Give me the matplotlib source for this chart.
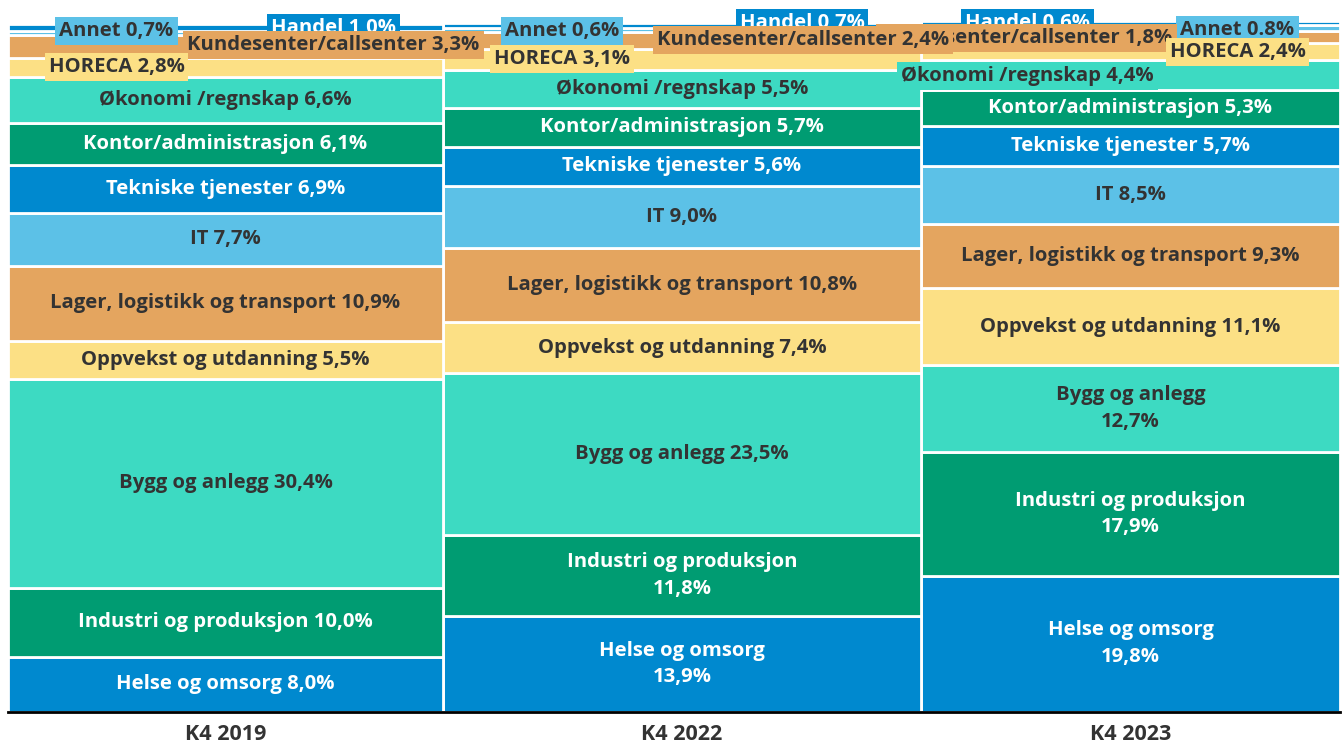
import numpy as np
import matplotlib.pyplot as plt

## data : share of vacancies per occupation group (bottom -> top)
periods = ['K4 2019', 'K4 2022', 'K4 2023']
col_width = [435, 478, 419]   # relative width of each column (mekko)
categories = ['Helse og omsorg', 'Industri og produksjon', 'Bygg og anlegg',
              'Oppvekst og utdanning', 'Lager, logistikk og transport', 'IT',
              'Tekniske tjenester', 'Kontor/administrasjon', 'Økonomi /regnskap',
              'HORECA', 'Kundesenter/callsenter', 'Annet', 'Handel']
share_2019 = [8.0, 10.0, 30.4, 5.5, 10.9, 7.7, 6.9, 6.1, 6.6, 2.8, 3.3, 0.7, 1.0]
share_2022 = [13.9, 11.8, 23.5, 7.4, 10.8, 9.0, 5.6, 5.7, 5.5, 3.1, 2.4, 0.6, 0.7]
share_2023 = [19.8, 17.9, 12.7, 11.1, 9.3, 8.5, 5.7, 5.3, 4.4, 2.4, 1.8, 0.8, 0.6]
label_2019 = ['8,0%', '10,0%', '30,4%', '5,5%', '10,9%', '7,7%', '6,9%', '6,1%', '6,6%', '2,8%', '3,3%', '0,7%', '1,0%']
label_2022 = ['13,9%', '11,8%', '23,5%', '7,4%', '10,8%', '9,0%', '5,6%', '5,7%', '5,5%', '3,1%', '2,4%', '0,6%', '0,7%']
label_2023 = ['19,8%', '17,9%', '12,7%', '11,1%', '9,3%', '8,5%', '5,7%', '5,3%', '4,4%', '2,4%', '1,8%', '0.8%', '0,6%']

shares = [share_2019, share_2022, share_2023]
labels = [label_2019, label_2022, label_2023]

## style
palette = ['#0089CF', '#009C72', '#3DDAC2', '#FCE085', '#E4A55F', '#5CC1E7']
light = ['#3DDAC2', '#FCE085', '#E4A55F', '#5CC1E7']
dark_txt = '#333333'
# labels split into two lines (column index, category index)
wrap = {(1, 0), (1, 1), (2, 0), (2, 1), (2, 2)}
# label shifts in pixels (dx, dy) for the crowded top segments
shift = {
    (0, 9): (-109, 1), (0, 10): (108, 2), (0, 11): (-109, 2), (0, 12): (108, -1),
    (1, 9): (-120, 0), (1, 10): (121, 0), (1, 11): (-120, -1), (1, 12): (120, 2),
    (2, 8): (-103, -1), (2, 9): (107, -1), (2, 10): (-104, -1), (2, 11): (107, -2),
    (2, 12): (-103, 0),
}

plt.rcParams['font.family'] = ['Open Sans', 'DejaVu Sans']

fig = plt.figure(figsize=(13.44, 7.48), dpi=100)
ax = fig.add_axes([8/1344, 36/748, 1332/1344, 691/748])

lefts = np.concatenate([[0], np.cumsum(col_width)[:-1]])
centers = lefts + np.array(col_width)/2.0
n = len(categories)

for c in range(len(periods)-1, -1, -1):
    bottom = 0.0
    for k, cat in enumerate(categories):
        v = shares[c][k]
        col = palette[k % len(palette)]
        ax.bar(lefts[c], v, width=col_width[c], bottom=bottom, align='edge',
               color=col, edgecolor='white', linewidth=2, zorder=1)
        sep = '\n' if (c, k) in wrap else ' '
        txt = cat + sep + labels[c][k]
        tc = dark_txt if col in light else 'white'
        dx, dy = shift.get((c, k), (0, 0))
        # upper labels sit below lower ones
        ax.annotate(txt, (centers[c], bottom + v/2.0), xytext=(dx, dy),
                    textcoords='offset pixels', ha='center', va='center',
                    fontsize=14.6, fontweight='bold', color=tc, linespacing=1.45,
                    bbox=dict(boxstyle='square,pad=0.2', fc=col, ec='none'),
                    zorder=5 + (n - k)*0.1, annotation_clip=False)
        bottom += v

ax.set_xlim(0, sum(col_width))
ax.set_ylim(0, 100.3)
ax.set_xticks(centers)
ax.set_xticklabels(periods, fontsize=15.5, fontweight='bold', color='#333333')
ax.tick_params(axis='x', length=0, pad=9)
ax.set_yticks([])
for s in ['top', 'right', 'left']:
    ax.spines[s].set_visible(False)
ax.spines['bottom'].set_linewidth(2)
ax.spines['bottom'].set_color('black')

fig.savefig('out.png', dpi=100)
